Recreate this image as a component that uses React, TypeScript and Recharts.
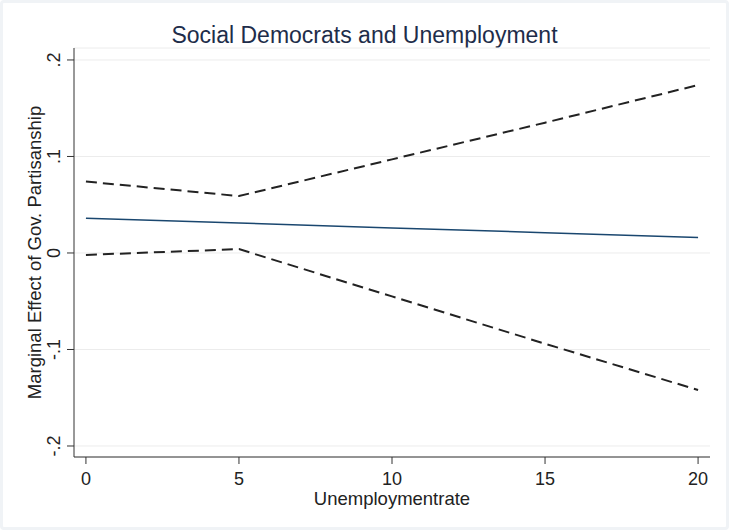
import { CartesianGrid, Label, Line, LineChart, XAxis, YAxis } from 'recharts'

const unemployment = [0, 5, 10, 15, 20]
const marginalEffect = [0.036, 0.031, 0.026, 0.021, 0.016]
const upperBound = [0.074, 0.059, 0.097, 0.135, 0.174]
const lowerBound = [-0.002, 0.004, -0.045, -0.094, -0.142]

const xTicks = [0, 5, 10, 15, 20]
const yTicks = [-0.2, -0.1, 0, 0.1, 0.2]

const data = unemployment.map((u, i) => ({
  u,
  effect: marginalEffect[i],
  upper: upperBound[i],
  lower: lowerBound[i],
}))

const FONT = '"Liberation Sans", Arial, sans-serif'

const fmtY = (v: number) => {
  if (v === 0) return '0'
  return v.toFixed(1).replace('0.', '.')
}

const YTick = (props: any) => {
  const { x, y, payload } = props
  const bx = x - 5
  return (
    <text
      x={bx}
      y={y}
      transform={`rotate(-90, ${bx}, ${y})`}
      textAnchor="middle"
      fontSize={18}
      fontFamily={FONT}
      fill="#222"
    >
      {fmtY(payload.value)}
    </text>
  )
}

export default function App() {
  return (
    <div
      style={{
        position: 'absolute',
        left: 0,
        top: 0,
        width: 729,
        height: 530,
        background: '#fff',
        boxSizing: 'border-box',
        border: '3px solid #f0f3f6',
        borderRadius: 4,
      }}
    >
      <div
        style={{
          position: 'absolute',
          left: -3,
          top: 19,
          width: 729,
          textAlign: 'center',
          fontFamily: FONT,
          fontSize: 23,
          color: '#1e2d4a',
        }}
      >
        Social Democrats and Unemployment
      </div>
      <div style={{ position: 'absolute', left: -3, top: -3 }}>
        <LineChart
          width={729}
          height={530}
          data={data}
          margin={{ top: 48, right: 19, bottom: 33, left: 0 }}
        >
          <CartesianGrid vertical={false} stroke="#ececec" strokeWidth={1} />
          <XAxis
            dataKey="u"
            type="number"
            domain={[-0.39, 20.39]}
            ticks={xTicks}
            height={40}
            tickSize={7}
            stroke="#333"
            tick={{ fontSize: 18, fontFamily: FONT, fill: '#222' }}
            tickMargin={8}
          >
            <Label
              value="Unemploymentrate"
              content={(p: any) => {
                const vb = p.viewBox
                return (
                  <text
                    x={vb.x + vb.width / 2}
                    y={505}
                    textAnchor="middle"
                    fontSize={18.5}
                    fontFamily={FONT}
                    fill="#222"
                  >
                    Unemploymentrate
                  </text>
                )
              }}
            />
          </XAxis>
          <YAxis
            type="number"
            domain={[-0.2114, 0.2124]}
            ticks={yTicks}
            width={74}
            tickSize={7}
            stroke="#333"
            tick={<YTick />}
            allowDataOverflow
          >
            <Label
              value="Marginal Effect of Gov. Partisanship"
              content={(p: any) => {
                const vb = p.viewBox
                const cx = 41
                const cy = vb.y + vb.height / 2
                return (
                  <text
                    x={cx}
                    y={cy}
                    transform={`rotate(-90, ${cx}, ${cy})`}
                    textAnchor="middle"
                    fontSize={18.5}
                    fontFamily={FONT}
                    fill="#222"
                  >
                    Marginal Effect of Gov. Partisanship
                  </text>
                )
              }}
            />
          </YAxis>
          <Line
            dataKey="upper"
            stroke="#222"
            strokeWidth={2}
            strokeDasharray="11 6"
            dot={false}
            isAnimationActive={false}
          />
          <Line
            dataKey="lower"
            stroke="#222"
            strokeWidth={2}
            strokeDasharray="11 6"
            dot={false}
            isAnimationActive={false}
          />
          <Line
            dataKey="effect"
            stroke="#1a476f"
            strokeWidth={1.5}
            dot={false}
            isAnimationActive={false}
          />
        </LineChart>
      </div>
    </div>
  )
}
